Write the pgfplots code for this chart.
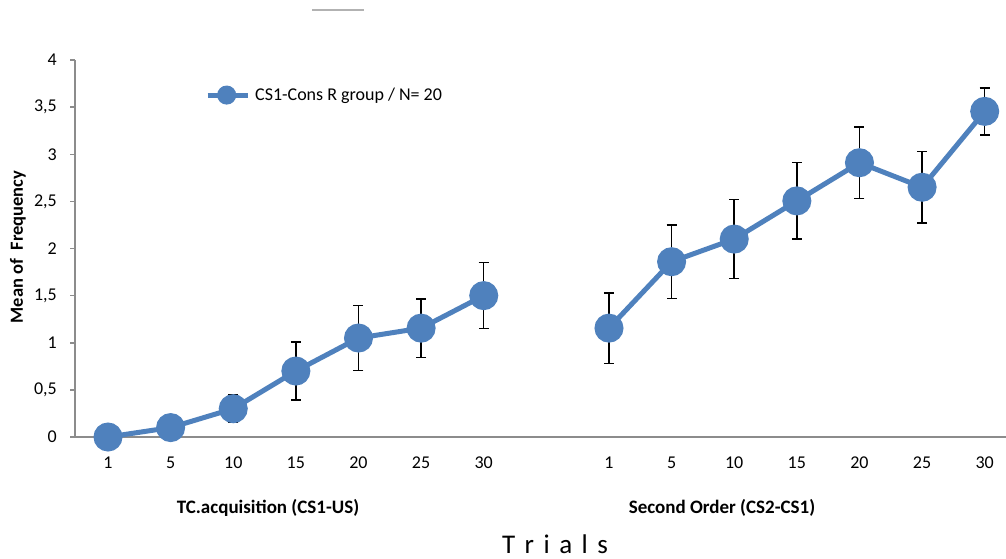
\documentclass[border=0pt]{standalone}
\usepackage{pgfplots}
\usepackage{pgfplotstable}
\pgfplotsset{compat=1.18}
\usepackage{fontspec}
\setmainfont{Carlito}
\definecolor{mblue}{HTML}{4F81BD}
\definecolor{axgray}{HTML}{8C8C8C}

\pgfplotstableread{
x y e
0 0 0
1 0.10 0
2 0.30 0.145
3 0.70 0.31
4 1.05 0.345
5 1.155 0.31
6 1.50 0.35
}\dataA
\pgfplotstableread{
x y e
8 1.155 0.375
9 1.86 0.39
10 2.10 0.42
11 2.505 0.405
12 2.91 0.38
13 2.65 0.38
14 3.455 0.25
}\dataB

\begin{document}
\begin{tikzpicture}[x=1pt,y=1pt]
\useasboundingbox (0,0) rectangle (1006,558);
\begin{axis}[
  at={(75pt,121pt)}, anchor=south west,
  scale only axis, width=931pt, height=377pt,
  xmin=-0.527, xmax=14.34, ymin=0, ymax=4,
  clip=false,
  axis x line*=bottom, axis y line*=left,
  axis line style={axgray, line width=1.5pt, -},
  xtick={0,1,2,3,4,5,6,8,9,10,11,12,13,14},
  xticklabels={1,5,10,15,20,25,30,1,5,10,15,20,25,30},
  ytick={0,0.5,1,1.5,2,2.5,3,3.5,4},
  yticklabels={0,{0,5},1,{1,5},2,{2,5},3,{3,5},4},
  tick align=outside, major tick length=5pt,
  ytick style={axgray, line width=1.5pt},
  xtick style={draw=none},
  ticklabel style={font=\fontsize{18}{20}\selectfont, inner sep=0pt},
  yticklabel style={xshift=-13pt},
  xticklabel style={yshift=-15pt},
  legend style={draw=none, fill=none, at={(0.1396,0.907)}, anchor=west,
    inner sep=0pt, font=\fontsize{18}{20}\selectfont,
    /tikz/every even column/.append style={column sep=0pt}},
  legend cell align=left,
]
\addplot[only marks, mark=none, forget plot,
  error bars/.cd, y dir=both, y explicit,
  error bar style={black, line width=1.5pt},
  error mark options={rotate=90, mark size=5pt, line width=1.5pt, black}]
  table[x=x, y=y, y error=e] {\dataA};
\addplot[only marks, mark=none, forget plot,
  error bars/.cd, y dir=both, y explicit,
  error bar style={black, line width=1.5pt},
  error mark options={rotate=90, mark size=5pt, line width=1.5pt, black}]
  table[x=x, y=y, y error=e] {\dataB};
\addplot[mblue, line width=5pt, mark=*, mark size=12pt,
  mark options={fill=mblue, draw=none},
  legend image code/.code={
    \draw[mblue, line width=5pt] (0pt,0pt) -- (40pt,0pt);
    \fill[mblue] (19pt,0pt) circle (7pt);
    \path (43pt,0pt);
  }]
  table[x=x, y=y] {\dataA};
\addlegendentry{CS1-Cons R group / N= 20}
\addplot[mblue, line width=5pt, mark=*, mark size=12pt,
  mark options={fill=mblue, draw=none}, forget plot]
  table[x=x, y=y] {\dataB};
\end{axis}
\node[font=\fontsize{19}{21}\selectfont\bfseries] at (268,50) {TC.acquisition (CS1-US)};
\node[font=\fontsize{19}{21}\selectfont\bfseries] at (722,50) {Second Order (CS2-CS1)};
\node[font=\fontsize{27}{29}\selectfont, inner sep=0pt, anchor=base] at (555,5) {\spaceskip=9.5pt T r i a l s};
\node[font=\fontsize{18.5}{20}\selectfont\bfseries, rotate=90] at (18,311) {Mean of\ \ Frequency};
\draw[black!30, line width=1.2pt] (312,548) -- (364,548);
\end{tikzpicture}
\end{document}
